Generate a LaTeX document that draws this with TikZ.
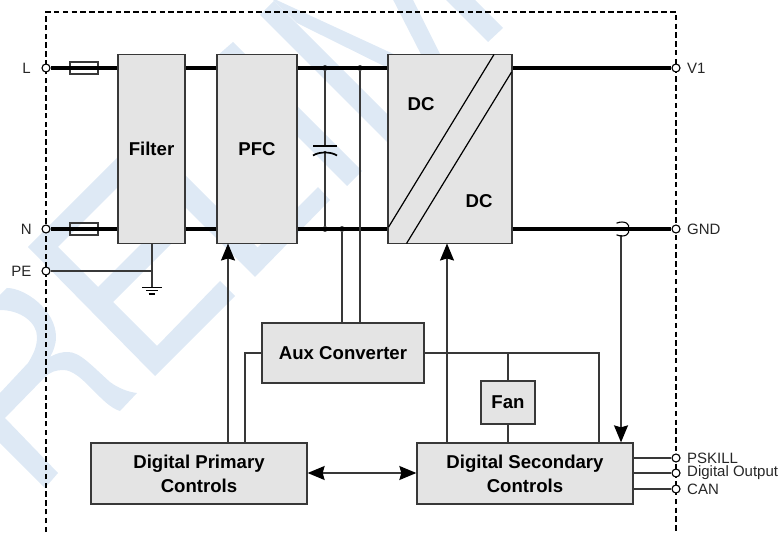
\documentclass[tikz,border=0pt]{standalone}
\usepackage{fontspec}
\setmainfont{Liberation Sans}
\usetikzlibrary{arrows.meta}
\definecolor{wmark}{HTML}{DEE9F5}
\definecolor{boxfill}{HTML}{E4E4E4}
\definecolor{boxline}{HTML}{383838}
\tikzset{
  tipstyle/.style={},
  block/.style={draw=boxline,fill=boxfill,line width=1.3pt,inner sep=0pt,align=center,
    font=\fontsize{18.6}{24}\selectfont\bfseries,text=black},
  bus/.style={draw=black,line width=3.4pt},
  wire/.style={draw=boxline,line width=1.3pt},
  arrowed/.style={wire,-{Stealth[length=17pt,width=14pt,inset=2pt,color=black,fill=black]}},
  biarrowed/.style={wire,{Stealth[length=17pt,width=14pt,inset=2pt,color=black,fill=black]}-{Stealth[length=17pt,width=14pt,inset=2pt,color=black,fill=black]}},
  terminal/.style={circle,draw=black,fill=white,line width=1.1pt,minimum size=8pt,inner sep=0pt},
  junction/.style={circle,fill=black,minimum size=5.6pt,inner sep=0pt},
  fuse/.style={draw=boxline,line width=1.3pt,minimum width=28pt,minimum height=12pt,inner sep=0pt},
  portlabel/.style={inner sep=0pt,font=\fontsize{15}{15}\selectfont,text=black!85},
  frameline/.style={draw=black,line width=1.1pt,dash pattern=on 5.5pt off 3.3pt},
  thinline/.style={draw=black,line width=1.2pt},
}
\begin{document}
\begin{tikzpicture}[x=1pt,y=-1pt]
\useasboundingbox (0,0) rectangle (781,534);
% watermark
\begin{scope}
\clip (0,0) rectangle (781,534);
\fill[wmark] (0,295) -- (7,288) .. controls (25,288) and (56,310) .. (56,337)
  .. controls (56,345) and (53,352) .. (50,357)
  .. controls (57,353) and (62,352) .. (68,352)
  .. controls (80,352) and (92,366) .. (110,382)
  .. controls (118,388) and (128,392) .. (137,393)
  -- (120,411) .. controls (110,408) and (101,398) .. (92,389)
  .. controls (82,379) and (73,370) .. (63,370)
  .. controls (56,370) and (50,372) .. (45,377)
  -- (5,418) -- (58,473) -- (45,488) -- (0,443) -- (0,393) -- (28,363)
  .. controls (33,355) and (37,347) .. (37,337)
  .. controls (37,322) and (20,310) .. (0,310) -- cycle;
\fill[wmark] (120,155) -- (28,247) -- (155,376) -- (235,296) -- (220,281) -- (157,346)
  -- (113,302) -- (175,240) -- (160,225) -- (98,287) -- (58,247) -- (130,175) -- cycle;
\fill[wmark] (150,172) -- (255,277) -- (330,200) -- (318,187) -- (257.5,247.5) -- (165,155) -- cycle;
\fill[wmark] (233,42) -- (362,171) -- (347,186) -- (217,56) -- cycle;
\fill[wmark] (260,15) -- (274,1) -- (440,167) -- (426,181) -- cycle;
\fill[wmark] (270,-3) -- (400,57) -- (400,74) -- (297,23) -- cycle;
\fill[wmark] (383,-20) -- (403,-20) -- (449,72) -- (430,72) -- cycle;
\fill[wmark] (436,-10) -- (465,-10) -- (503,28) -- (488,42) -- cycle;
\end{scope}
% dashed frame
\coordinate (fbl) at (46,532);
\coordinate (ftl) at (46,12);
\coordinate (ftr) at (676,12);
\coordinate (fbr) at (676,532);
\draw[frameline] (fbl) -- (ftl) -- (ftr) -- (fbr);
% blocks
\node[block,minimum width=67pt,minimum height=189pt] (filter) at (151.5,149) {Filter};
\node[block,minimum width=80pt,minimum height=189pt] (pfc) at (257,149) {PFC};
\node[block,minimum width=124pt,minimum height=189pt] (dcdc) at (450,149) {};
\node[block,minimum width=162pt,minimum height=60pt] (aux) at (343,353) {Aux Converter};
\node[block,minimum width=216pt,minimum height=61pt] (prim) at (199,473.5) {Digital Primary\\Controls};
\node[block,minimum width=216pt,minimum height=61pt] (sec) at (525,473.5) {Digital Secondary\\Controls};
\node[block,minimum width=54pt,minimum height=43pt] (fan) at (508,402.5) {Fan};
\node[inner sep=0pt,font=\fontsize{18.6}{24}\selectfont\bfseries] (dc1) at (421,104) {DC};
\node[inner sep=0pt,font=\fontsize{18.6}{24}\selectfont\bfseries] (dc2) at (479,201) {DC};
\coordinate (d1a) at (494,54.5);
\coordinate (d1b) at (388.6,227);
\coordinate (d2a) at (511.6,72);
\coordinate (d2b) at (406.5,243.5);
\draw[thinline] (d1a) -- (d1b);
\draw[thinline] (d2a) -- (d2b);
% terminals
\node[terminal] (L) at (46,68) {};
\node[terminal] (N) at (46,229) {};
\node[terminal] (PE) at (46,271) {};
\node[terminal] (V1) at (676,68) {};
\node[terminal] (GND) at (676,229) {};
\node[terminal] (PS) at (676,458) {};
\node[terminal] (DO) at (676,473) {};
\node[terminal] (CAN) at (676,489) {};
\node[portlabel,anchor=east] (lL) at (31,68) {L};
\node[portlabel,anchor=east] (lN) at (32,229) {N};
\node[portlabel,anchor=east] (lPE) at (31.5,271) {PE};
\node[portlabel,anchor=west] (lV1) at (687,68) {V1};
\node[portlabel,anchor=west] (lGND) at (687,229) {GND};
\node[portlabel,anchor=west] (lPS) at (687,458) {PSKILL};
\node[portlabel,anchor=west] (lDO) at (687,473) {Digital Output};
\node[portlabel,anchor=west] (lCAN) at (687,489) {CAN};
% fuses
\node[fuse] (f1) at (84,68) {};
\node[fuse] (f2) at (84,229) {};
% buses
\draw[bus] (L) -- (L -| filter.west);
\draw[bus] (N) -- (N -| filter.west);
\draw[bus] (L -| filter.east) -- (L -| pfc.west);
\draw[bus] (N -| filter.east) -- (N -| pfc.west);
\draw[bus] (L -| pfc.east) -- (L -| dcdc.west);
\draw[bus] (N -| pfc.east) -- (N -| dcdc.west);
\draw[bus] (L -| dcdc.east) -- (V1);
\draw[bus] (N -| dcdc.east) -- (GND);
% junctions
\node[junction] (jL1) at (325,68) {};
\node[junction] (jL2) at (360,68) {};
\node[junction] (jN1) at (325,229) {};
\node[junction] (jN2) at (342,229) {};
% capacitor
\coordinate (capT) at (325,146);
\coordinate (capB) at (325,151);
\draw[wire] (jL1) -- (capT);
\draw[wire] (capB) -- (jN1);
\coordinate (capTl) at (313,146);
\coordinate (capTr) at (337,146);
\coordinate (capBl) at (313,155.5);
\coordinate (capBr) at (337,155.5);
\draw[draw=black,line width=1.7pt] (capTl) -- (capTr);
\draw[draw=black,line width=1.7pt] (capBl) .. controls (319,151.5) and (331,151.5) .. (capBr);
% aux feeds
\draw[wire] (jN2) -- (jN2 |- aux.north);
\draw[wire] (jL2) -- (jL2 |- aux.north);
% ground
\coordinate (gnd) at (152,287.5);
\coordinate (gt) at (152,271);
\draw[wire] (filter.south -| gnd) -- (gnd);
\draw[wire] (PE) -- (gt);
\draw[draw=black,line width=1.2pt] (142,287.5) -- (162,287.5);
\draw[draw=black,line width=1.2pt] (146,290.7) -- (157.5,290.7);
\draw[draw=black,line width=1.4pt] (148.5,294) -- (155,294);
% control lines
\coordinate (pfcIn) at (228,243.5);
\draw[arrowed] (pfcIn |- prim.north) -- (pfcIn);
\coordinate (auxTap) at (245,353);
\draw[wire] (auxTap |- prim.north) -- (auxTap) -- (aux.west);
\coordinate (dcIn) at (447,243.5);
\draw[arrowed] (dcIn |- sec.north) -- (dcIn);
\draw[biarrowed] (prim.east |- DO) -- (sec.west |- DO);
\coordinate (auxR) at (599,353);
\draw[wire] (aux.east) -- (auxR) -- (auxR |- sec.north);
\draw[wire] (fan.north |- aux.east) -- (fan.north);
\draw[wire] (fan.south) -- (fan.south |- sec.north);
% sense line with bridge over GND bus
\coordinate (senseTop) at (621,235);
\draw[arrowed] (senseTop) -- (senseTop |- sec.north);
\coordinate (bridgeA) at (616.5,223.2);
\coordinate (bridgeB) at (616.5,234.8);
\draw[draw=black,line width=1.1pt] (bridgeA) .. controls (624,219.8) and (632,224.3) .. (627.3,229)
  .. controls (632,233.8) and (624,238.2) .. (bridgeB);
% secondary outputs
\draw[wire] (PS -| sec.east) -- (PS);
\draw[wire] (DO -| sec.east) -- (DO);
\draw[wire] (CAN -| sec.east) -- (CAN);
\end{tikzpicture}
\end{document}
